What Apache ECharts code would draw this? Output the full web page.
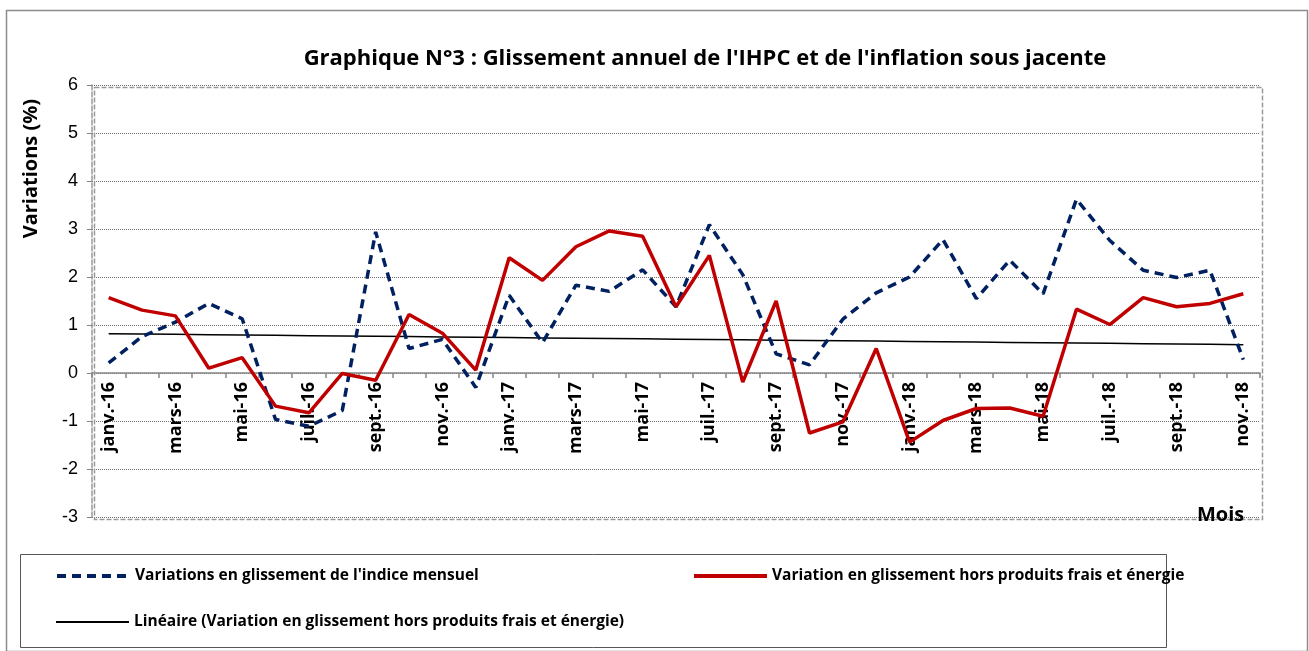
<!DOCTYPE html>
<html>
<head>
<meta charset="utf-8">
<script src="https://cdn.jsdelivr.net/npm/echarts@6/dist/echarts.min.js"></script>
<style>
  html, body { margin: 0; padding: 0; background: #fff; }
  #chart { width: 1309px; height: 651px; }
</style>
</head>
<body>
<div id="chart"></div>
<script>
// mois (janv. 2016 -> nov. 2018)
var months = [
    "janv.-16", "févr.-16", "mars-16", "avr.-16", "mai-16", "juin-16",
    "juil.-16", "août-16", "sept.-16", "oct.-16", "nov.-16", "déc.-16",
    "janv.-17", "févr.-17", "mars-17", "avr.-17", "mai-17", "juin-17",
    "juil.-17", "août-17", "sept.-17", "oct.-17", "nov.-17", "déc.-17",
    "janv.-18", "févr.-18", "mars-18", "avr.-18", "mai-18", "juin-18",
    "juil.-18", "août-18", "sept.-18", "oct.-18", "nov.-18"
];

// glissement de l'indice mensuel (%)
var indiceMensuel = [
    0.21, 0.76, 1.06, 1.45, 1.13, -0.97, -1.11, -0.78, 2.94, 0.51, 0.70, -0.30,
    1.62, 0.63, 1.83, 1.70, 2.15, 1.38, 3.09, 2.05, 0.40, 0.17, 1.12, 1.67,
    2.00, 2.78, 1.55, 2.35, 1.65, 3.62, 2.76, 2.14, 1.99, 2.14, 0.28
];

// glissement hors produits frais et énergie (%)
var horsFraisEnergie = [
    1.57, 1.31, 1.19, 0.10, 0.32, -0.69, -0.83, -0.01, -0.15, 1.22, 0.83, 0.06,
    2.40, 1.93, 2.63, 2.96, 2.85, 1.38, 2.45, -0.19, 1.50, -1.25, -1.02, 0.51,
    -1.44, -0.99, -0.74, -0.73, -0.90, 1.33, 1.01, 1.57, 1.38, 1.45, 1.65
];

var yTicks = [-3, -2, -1, 0, 1, 2, 3, 4, 5, 6];

var nameIndice = "Variations en glissement de l'indice mensuel";
var nameHors = "Variation en glissement hors produits frais et énergie";
var nameTrend = "Linéaire (Variation en glissement hors produits frais et énergie)";

// courbe de tendance linéaire (moindres carrés, comme Excel)
function linearTrend(values) {
    var n = values.length, sx = 0, sy = 0, sxy = 0, sxx = 0;
    for (var i = 0; i < n; i++) {
        sx += i; sy += values[i]; sxy += i * values[i]; sxx += i * i;
    }
    var b = (n * sxy - sx * sy) / (n * sxx - sx * sx);
    var a = (sy - b * sx) / n;
    var out = [];
    for (var j = 0; j < n; j++) out.push(+(a + b * j).toFixed(4));
    return out;
}
var trend = linearTrend(horsFraisEnergie);

var chart = echarts.init(document.getElementById("chart"));

var font = "'Open Sans', 'Noto Sans', sans-serif";
var gridL = 92, gridT = 85, gridR = 49, gridB = 134;
var plotH = 651 - gridT - gridB;
// l'axe des mois est posé sur la ligne du zéro
var zeroOffset = -plotH * (0 - yTicks[0]) / (yTicks[yTicks.length - 1] - yTicks[0]);

var legendText = { fontFamily: font, fontWeight: "bold", fontSize: 15.5, color: "#000" };
function legendAt(name, x, y, w) {
    return {
        data: [name], left: x, top: y,
        padding: 0, itemWidth: 73, itemHeight: 12,
        itemStyle: { opacity: 0 },
        lineStyle: { width: w },
        textStyle: legendText
    };
}

var option = {
    backgroundColor: "#fff",
    animation: false,
    title: {
        text: "Graphique N°3 : Glissement annuel de l'IHPC et de l'inflation sous jacente",
        left: 700,
        textAlign: "center",
        top: 43,
        textStyle: { fontFamily: font, fontWeight: "bold", fontSize: 22, color: "#000" }
    },
    grid: { left: gridL, right: gridR, top: gridT, bottom: gridB, containLabel: false },
    legend: [
        legendAt(nameIndice, 55, 568, 4),
        legendAt(nameHors, 692, 568, 4),
        legendAt(nameTrend, 55, 614, 2)
    ],
    xAxis: {
        type: "category",
        data: months,
        boundaryGap: true,
        offset: zeroOffset,
        axisLine: { onZero: false, lineStyle: { color: "#868686", width: 1.5 } },
        axisTick: { show: true, interval: 0, length: 5, lineStyle: { color: "#868686", width: 1.5 } },
        axisLabel: {
            interval: 1, rotate: 90, margin: 9,
            fontFamily: font, fontWeight: "bold", fontSize: 18, color: "#000"
        },
        splitLine: { show: false }
    },
    yAxis: {
        type: "value",
        min: yTicks[0],
        max: yTicks[yTicks.length - 1],
        interval: 1,
        axisLine: { show: true, lineStyle: { color: "#9a9a9a", type: [5, 2], width: 1.5 } },
        axisTick: { show: true, length: 5, lineStyle: { color: "#868686" } },
        axisLabel: {
            margin: 14,
            fontFamily: "'Liberation Sans', Arial, sans-serif", fontSize: 18, color: "#000"
        },
        splitLine: { show: true, lineStyle: { color: "#6f6f6f", type: [1, 1], width: 1 } }
    },
    graphic: [
        {   // cadre extérieur
            type: "rect", left: 4, top: 8, z: -1,
            shape: { width: 1301, height: 641 },
            style: { fill: "none", stroke: "#8c8c8c", lineWidth: 1.5 }
        },
        {   // cadre de la zone de tracé
            type: "rect", left: gridL, top: gridT, z: 10, silent: true,
            shape: { width: 1309 - gridL - gridR, height: plotH },
            style: { fill: "none", stroke: "#9a9a9a", lineWidth: 1.5, lineDash: [5, 2] }
        },
        {   // cadre de la légende
            type: "rect", left: 18, top: 552,
            shape: { width: 1146, height: 93 },
            style: { fill: "none", stroke: "#555", lineWidth: 1 }
        },
        {
            type: "text", left: 21, top: 99, rotation: Math.PI / 2, z: 20,
            style: { text: "Variations (%)", fill: "#000", font: "bold 20px " + font }
        },
        {
            type: "text", left: 1197, top: 505, z: 20,
            style: { text: "Mois", fill: "#000", font: "bold 20px " + font }
        }
    ],
    series: [
        {
            name: nameIndice,
            type: "line",
            data: indiceMensuel,
            symbol: "none",
            z: 3,
            lineStyle: { color: "#002060", width: 3.5, type: [9, 6] },
            itemStyle: { color: "#002060" }
        },
        {
            name: nameHors,
            type: "line",
            data: horsFraisEnergie,
            symbol: "none",
            z: 4,
            lineStyle: { color: "#c00000", width: 3.5 },
            itemStyle: { color: "#c00000" }
        },
        {
            name: nameTrend,
            type: "line",
            data: trend,
            symbol: "none",
            z: 2,
            lineStyle: { color: "#000", width: 1.5 },
            itemStyle: { color: "#000" }
        }
    ]
};

chart.setOption(option);
</script>
</body>
</html>
